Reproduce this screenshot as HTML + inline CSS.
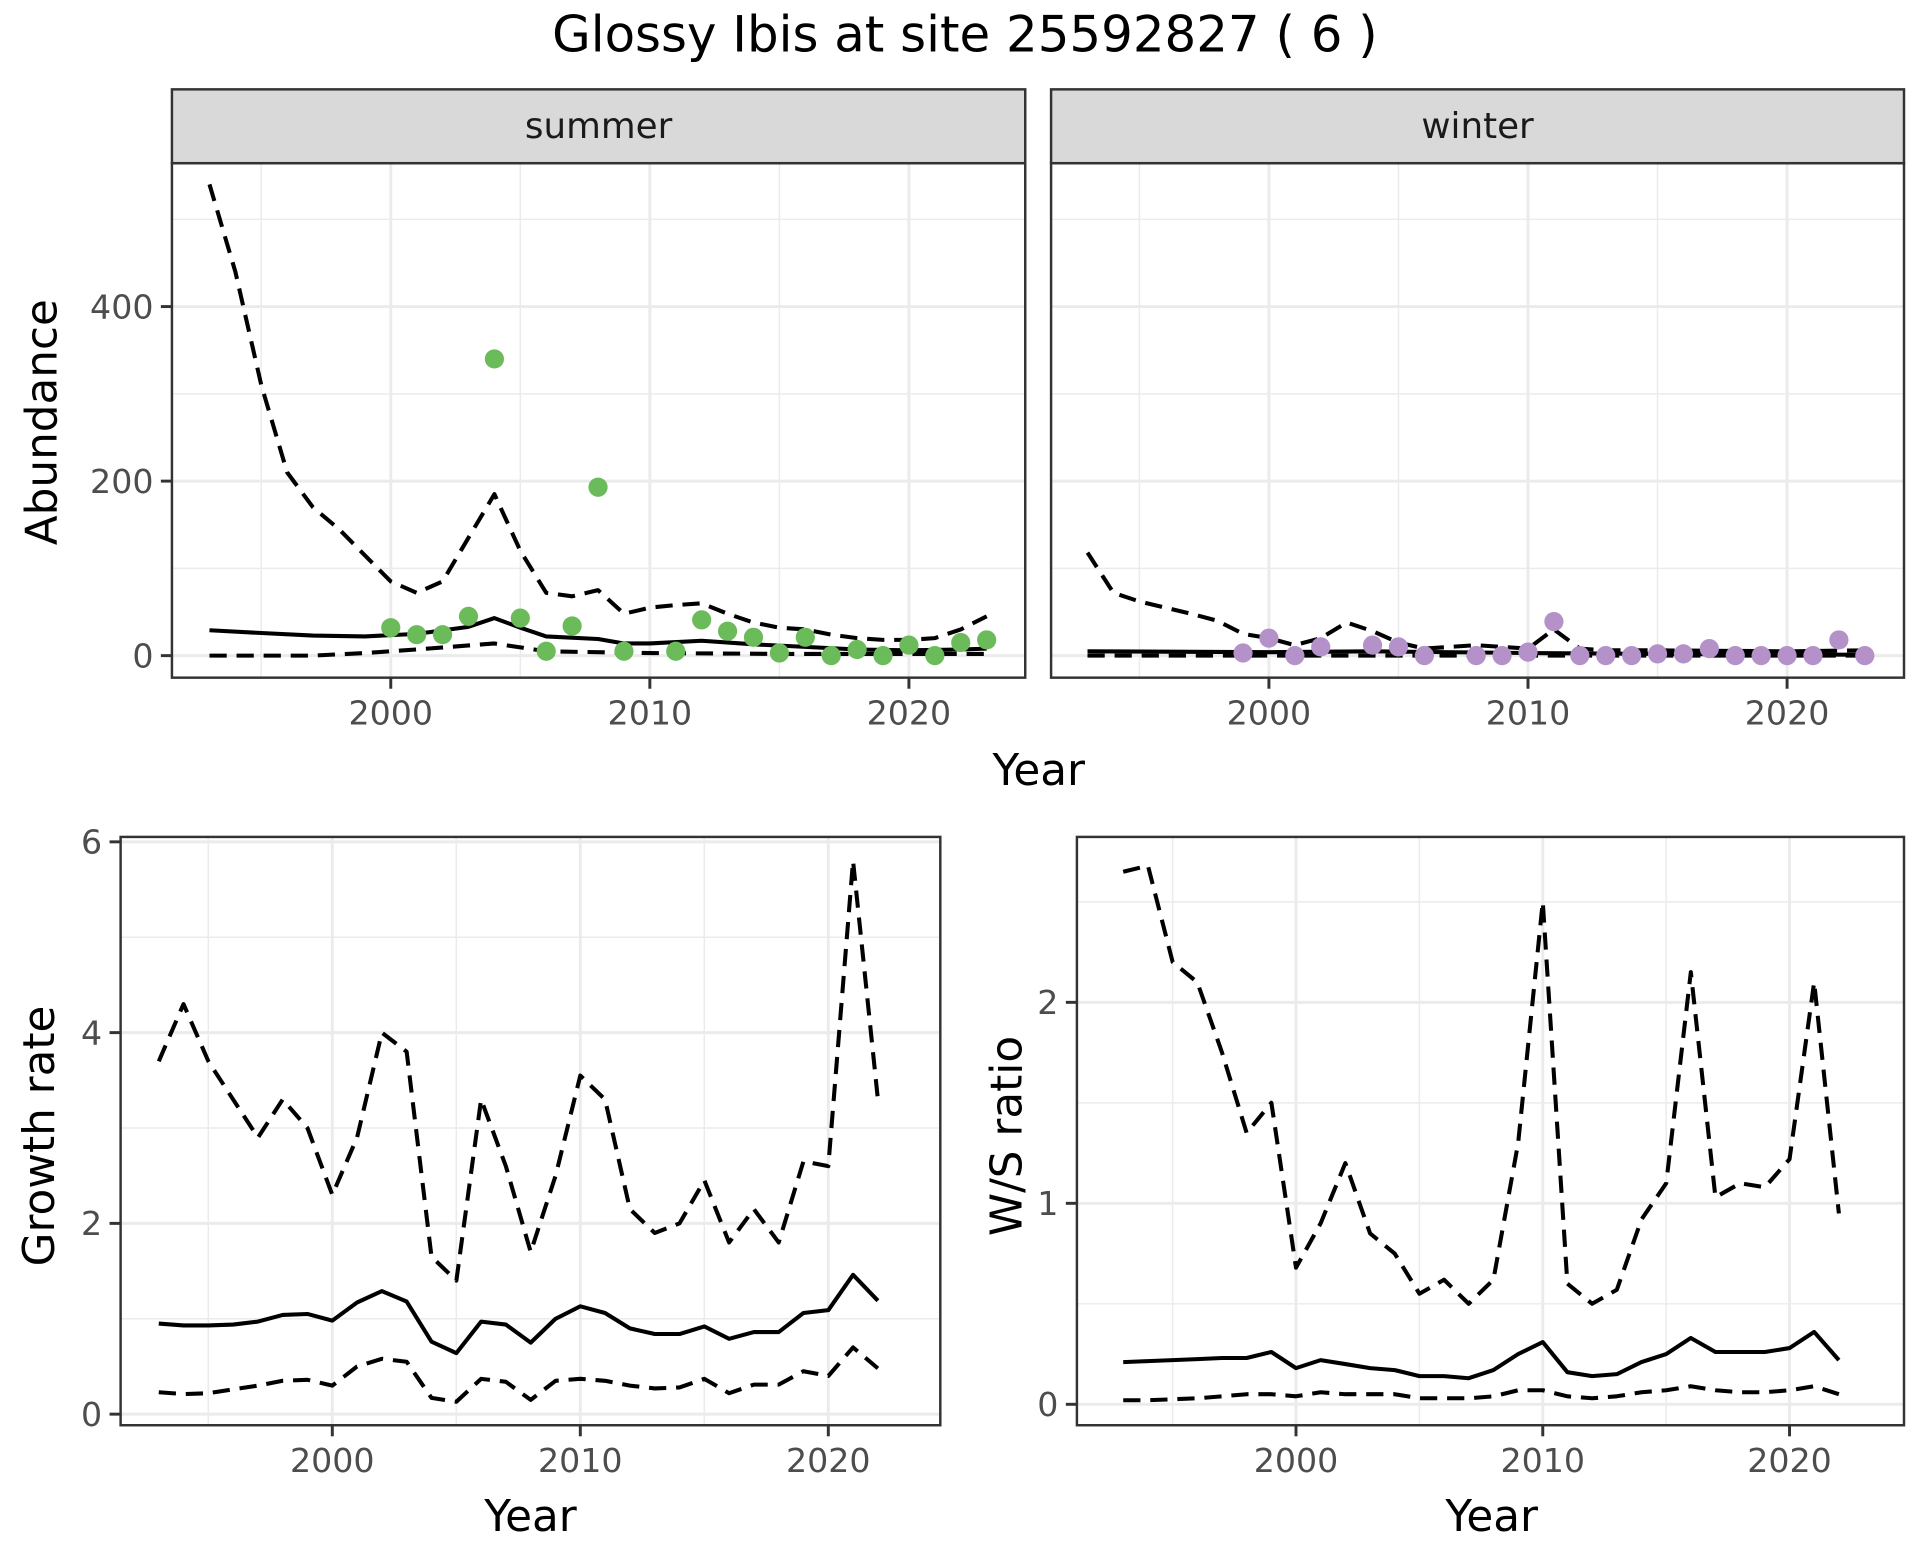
<!DOCTYPE html>
<html><head><meta charset="utf-8"><style>
html,body{margin:0;padding:0;background:#fff;}
svg{display:block;font-family:"DejaVu Sans","Liberation Sans",sans-serif;}
</style></head><body>
<svg id="s" width="1920" height="1560" viewBox="0 0 1560 1267.5" preserveAspectRatio="none" xmlns="http://www.w3.org/2000/svg">
<rect width="1560" height="1267.5" fill="#fff"/>
<text x="784" y="42" font-size="40.5" text-anchor="middle" fill="#000">Glossy Ibis at site 25592827 ( 6 )</text>
</svg>
<script>
const S=document.getElementById('s');
const TF=27, AF=35.5;
function el(t,a,txt){const e=document.createElementNS('http://www.w3.org/2000/svg',t);for(const k in a)e.setAttribute(k,a[k]);if(txt!==undefined)e.textContent=txt;S.appendChild(e);return e;}
function panel(o){
 const {x0,x1,y0,y1,fx,fy,xmaj,xmin,ymaj,ymin}=o;
 el('rect',{x:x0,y:y0,width:x1-x0,height:y1-y0,fill:'#fff'});
 xmin.forEach(v=>el('line',{x1:fx(v),x2:fx(v),y1:y0,y2:y1,stroke:'#ebebeb','stroke-width':1.2}));
 ymin.forEach(v=>el('line',{x1:x0,x2:x1,y1:fy(v),y2:fy(v),stroke:'#ebebeb','stroke-width':1.2}));
 xmaj.forEach(v=>el('line',{x1:fx(v),x2:fx(v),y1:y0,y2:y1,stroke:'#ebebeb','stroke-width':2.4}));
 ymaj.forEach(v=>el('line',{x1:x0,x2:x1,y1:fy(v),y2:fy(v),stroke:'#ebebeb','stroke-width':2.4}));
 if(o.xlab) xmaj.forEach(v=>{el('line',{x1:fx(v),x2:fx(v),y1:y1,y2:y1+9,stroke:'#333','stroke-width':2.4});el('text',{x:fx(v),y:y1+38,'font-size':TF,'text-anchor':'middle',fill:'#4d4d4d'},v);});
 if(o.ylab) ymaj.forEach(v=>{el('line',{x1:x0-9,x2:x0,y1:fy(v),y2:fy(v),stroke:'#333','stroke-width':2.4});el('text',{x:x0-15,y:fy(v)+9.5,'font-size':TF,'text-anchor':'end',fill:'#4d4d4d'},v);});
 return o;
}
function border(o){el('rect',{x:o.x0,y:o.y0,width:o.x1-o.x0,height:o.y1-o.y0,fill:'none',stroke:'#333','stroke-width':2});}
function mk(o,arr,dash){const pts=arr.map(p=>o.fx(p[0]).toFixed(1)+','+o.fy(p[1]).toFixed(1)).join(' ');const a={points:pts,fill:'none',stroke:'#000','stroke-width':3.3,'stroke-linejoin':'round'};if(dash)a['stroke-dasharray']='14,8';el('polyline',a);}
function line(o,start,vals,dash){mk(o,vals.map((v,i)=>[start+i,v]),dash);}
function pts(o,arr,c){arr.forEach(p=>el('circle',{cx:o.fx(p[0]),cy:o.fy(p[1]),r:7.8,fill:c}));}
function strip(o,label){el('rect',{x:o.x0,y:72.6,width:o.x1-o.x0,height:60,fill:'#d9d9d9',stroke:'#333','stroke-width':2});el('text',{x:(o.x0+o.x1)/2,y:112,'font-size':29,'text-anchor':'middle',fill:'#1a1a1a'},label);}
const ty=v=>532.7-v*0.709;
const A=panel({x0:139.7,x1:833,y0:132.6,y1:550.6,fx:v=>317.5+(v-2000)*21.05,fy:ty,xmaj:[2000,2010,2020],xmin:[1995,2005,2015],ymaj:[0,200,400],ymin:[100,300,500],xlab:1,ylab:1});
const B=panel({x0:854,x1:1547,y0:132.6,y1:550.6,fx:v=>1031+(v-2000)*21.05,fy:ty,xmaj:[2000,2010,2020],xmin:[1995,2005,2015],ymaj:[0,200,400],ymin:[100,300,500],xlab:1,ylab:0});
strip(A,'summer');strip(B,'winter');
line(A,1993,[540,440,310,210,170,145,115,85,72,85,135,185,120,72,68,75,48,55,58,60,48,38,32,30,24,20,18,18,20,30,45],1);
mk(A,[[1993,29],[1995,26],[1997,23],[1999,22],[2001,25],[2003,33],[2004,43],[2005,32],[2006,22],[2008,19],[2009,14],[2010,14],[2012,17],[2014,13],[2016,10],[2018,7],[2020,6],[2022,7],[2023,8]]);
mk(A,[[1993,0],[1997,0],[1999,3],[2001,7],[2004,14],[2006,5],[2010,3],[2015,2],[2023,2]],1);
pts(A,[[2000,32],[2001,24],[2002,24],[2003,45],[2004,340],[2005,43],[2006,5],[2007,34],[2008,193],[2009,5],[2011,5],[2012,41],[2013,28],[2014,21],[2015,3],[2016,21],[2017,0],[2018,7],[2019,0],[2020,12],[2021,0],[2022,15],[2023,18]],'#6bbb5b');
mk(B,[[1993,118],[1994,72],[1995,62],[1996,55],[1997,48],[1998,40],[1999,25],[2000,20],[2001,12],[2002,20],[2003,38],[2004,28],[2005,15],[2006,8],[2007,10],[2008,12],[2010,8],[2011,30],[2012,8],[2013,6],[2015,6],[2020,5],[2023,6]],1);
mk(B,[[1993,5],[2000,4],[2004,5],[2010,3],[2015,2],[2023,1]]);
mk(B,[[1993,0],[2023,0]],1);
pts(B,[[1999,3],[2000,20],[2001,0],[2002,10],[2004,12],[2005,10],[2006,0],[2008,0],[2009,0],[2010,4],[2011,39],[2012,0],[2013,0],[2014,0],[2015,2],[2016,2],[2017,8],[2018,0],[2019,0],[2020,0],[2021,0],[2022,18],[2023,0]],'#b491c8');
border(A);border(B);
el('text',{x:844,y:638,'font-size':AF,'text-anchor':'middle',fill:'#000'},'Year');
el('text',{x:0,y:0,'font-size':AF,'text-anchor':'middle',fill:'#000',transform:'translate(46,343) rotate(-90)'},'Abundance');
const C=panel({x0:98,x1:764,y0:680,y1:1158,fx:v=>270+(v-2000)*20.15,fy:v=>1149-v*77.5,xmaj:[2000,2010,2020],xmin:[1995,2005,2015],ymaj:[0,2,4,6],ymin:[1,3,5],xlab:1,ylab:1});
line(C,1993,[3.7,4.3,3.7,3.3,2.9,3.3,3.0,2.3,2.9,4.0,3.8,1.65,1.4,3.3,2.6,1.7,2.5,3.55,3.3,2.15,1.9,2.0,2.45,1.8,2.15,1.8,2.65,2.6,5.8,3.3],1);
line(C,1993,[.95,.93,.93,.94,.97,1.04,1.05,.98,1.17,1.29,1.18,.76,.64,.97,.94,.75,1.0,1.13,1.06,.9,.84,.84,.92,.79,.86,.86,1.06,1.09,1.46,1.19]);
line(C,1993,[.23,.21,.22,.26,.3,.35,.36,.3,.5,.58,.55,.17,.13,.37,.34,.15,.35,.37,.35,.3,.27,.28,.37,.22,.31,.31,.45,.4,.7,.48],1);
border(C);
el('text',{x:431,y:1244,'font-size':AF,'text-anchor':'middle',fill:'#000'},'Year');
el('text',{x:0,y:0,'font-size':AF,'text-anchor':'middle',fill:'#000',transform:'translate(44,923) rotate(-90)'},'Growth rate');
const D=panel({x0:875,x1:1547,y0:680,y1:1158,fx:v=>1053+(v-2000)*20.05,fy:v=>1141-v*163.3,xmaj:[2000,2010,2020],xmin:[1995,2005,2015],ymaj:[0,1,2],ymin:[0.5,1.5,2.5],xlab:1,ylab:1});
line(D,1993,[2.65,2.68,2.2,2.1,1.75,1.35,1.5,0.68,0.9,1.2,0.85,0.75,0.55,0.62,0.5,0.62,1.3,2.5,0.6,0.5,0.57,0.92,1.1,2.15,1.03,1.1,1.08,1.22,2.1,0.95],1);
line(D,1993,[.21,.215,.22,.225,.23,.23,.26,.18,.22,.2,.18,.17,.14,.14,.13,.17,.25,.31,.16,.14,.15,.21,.25,.33,.26,.26,.26,.28,.36,.22]);
line(D,1993,[.02,.02,.025,.03,.04,.05,.05,.04,.06,.05,.05,.05,.03,.03,.03,.04,.07,.07,.04,.03,.04,.06,.07,.09,.07,.06,.06,.07,.09,.05],1);
border(D);
el('text',{x:1212,y:1244,'font-size':AF,'text-anchor':'middle',fill:'#000'},'Year');
el('text',{x:0,y:0,'font-size':AF,'text-anchor':'middle',fill:'#000',transform:'translate(830,923) rotate(-90)'},'W/S ratio');
</script>
</body></html>
